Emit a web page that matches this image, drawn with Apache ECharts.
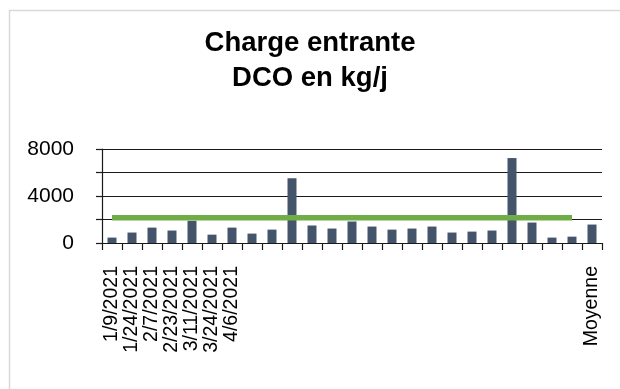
<!DOCTYPE html>
<html>
<head>
<meta charset="utf-8">
<script src="https://cdn.jsdelivr.net/npm/echarts@6/dist/echarts.min.js"></script>
<style>
  html, body { margin: 0; padding: 0; background: #fff; }
  #chart { width: 620px; height: 389px; }
</style>
</head>
<body>
<div id="chart"></div>
<script>
// Sampling dates (only some are labelled on the axis) and the average column
const categories = [
  '1/9/2021', '1/24/2021', '2/7/2021', '2/23/2021', '3/11/2021', '3/24/2021', '4/6/2021',
  'c8', 'c9', 'c10', 'c11', 'c12', 'c13', 'c14', 'c15', 'c16', 'c17', 'c18',
  'c19', 'c20', 'c21', 'c22', 'c23', 'c24', 'Moyenne'
];
const tickLabels = [
  '1/9/2021', '1/24/2021', '2/7/2021', '2/23/2021', '3/11/2021', '3/24/2021', '4/6/2021',
  '', '', '', '', '', '', '', '', '', '', '',
  '', '', '', '', '', '', 'Moyenne'
];
// Incoming COD load, kg/day
const dcoLoad = [
  460, 890, 1310, 1060, 1890, 710, 1310, 800, 1140, 5510, 1490, 1230,
  1830, 1400, 1140, 1230, 1400, 890, 970, 1060, 7230, 1740, 460, 540, 1570
];
// Reference load drawn as a flat line across the sampled dates
const referenceLoad = [
  2150, 2150, 2150, 2150, 2150, 2150, 2150, 2150, 2150, 2150, 2150, 2150,
  2150, 2150, 2150, 2150, 2150, 2150, 2150, 2150, 2150, 2150, 2150, 2150, '-'
];
const yTicks = [0, 4000, 8000];

const chart = echarts.init(document.getElementById('chart'), null, { renderer: 'canvas' });
const font = '"Liberation Sans", Arial, sans-serif';

chart.setOption({
  animation: false,
  backgroundColor: '#ffffff',
  graphic: [{
    type: 'rect',
    shape: { x: 9.5, y: 10.5, width: 700, height: 500 },
    style: { fill: 'none', stroke: '#d9d9d9', lineWidth: 1.5 },
    silent: true
  }],
  title: {
    text: 'Charge entrante\nDCO en kg/j',
    left: 'center',
    top: 21,
    textStyle: {
      fontFamily: font, fontWeight: 'bold', fontSize: 27.5, lineHeight: 35, color: '#000'
    }
  },
  grid: { left: 102, right: 18, top: 149, bottom: 146, containLabel: false },
  xAxis: {
    type: 'category',
    data: categories,
    axisLine: { lineStyle: { color: '#1a1a1a', width: 1.2 } },
    axisTick: { show: true, length: 7, interval: 0, lineStyle: { color: '#1a1a1a', width: 1.2 } },
    axisLabel: {
      interval: 0,
      rotate: 90,
      margin: 23,
      fontFamily: font,
      fontSize: 19.5,
      color: '#000',
      formatter: (v, i) => tickLabels[i]
    }
  },
  yAxis: {
    type: 'value',
    min: 0,
    max: 8000,
    interval: 2000,
    axisLine: { show: true, lineStyle: { color: '#1a1a1a', width: 1.2 } },
    axisTick: { show: true, length: 6, lineStyle: { color: '#1a1a1a', width: 1.2 } },
    splitLine: { show: true, lineStyle: { color: '#1a1a1a', width: 1.2 } },
    axisLabel: {
      margin: 28,
      fontFamily: font,
      fontSize: 21,
      color: '#000',
      formatter: v => (yTicks.includes(v) ? String(v) : '')
    }
  },
  series: [
    {
      name: 'DCO',
      type: 'bar',
      data: dcoLoad,
      barWidth: 9,
      itemStyle: { color: '#44546A' },
      z: 2
    },
    {
      name: 'Référence',
      type: 'line',
      data: referenceLoad,
      symbol: 'none',
      lineStyle: { color: '#70AD47', width: 5.5 },
      z: 3
    }
  ]
});
</script>
</body>
</html>
